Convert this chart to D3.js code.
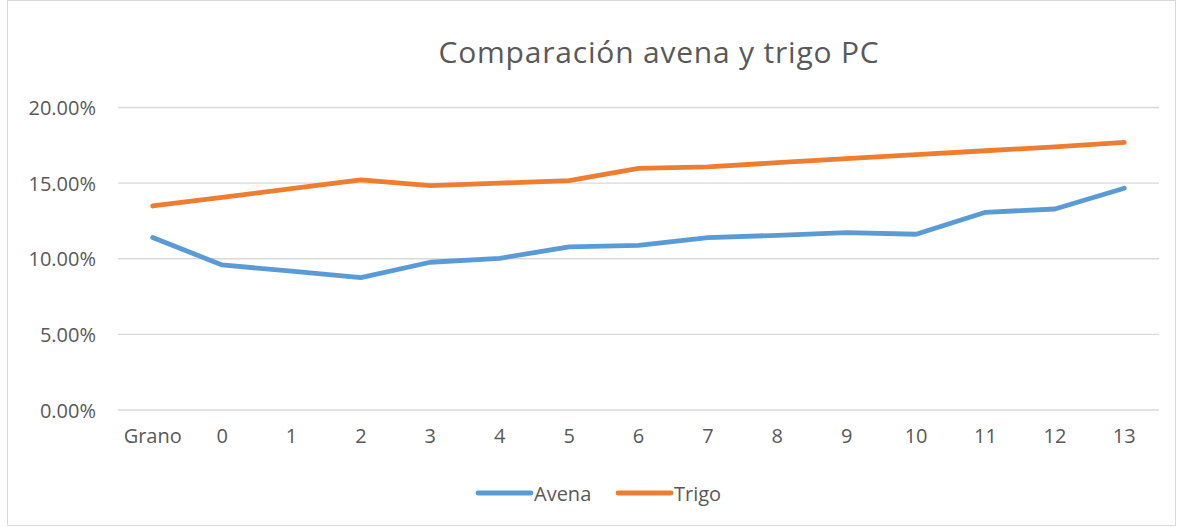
<!DOCTYPE html>
<html><head><meta charset="utf-8">
<script src="https://cdn.jsdelivr.net/npm/d3@7"></script>
<style>body{margin:0;background:#fff;} text{font-family:"Open Sans","Noto Sans",sans-serif;}</style>
</head><body><svg id="c" width="1177" height="527"></svg>
<script>
const categories = ["Grano","0","1","2","3","4","5","6","7","8","9","10","11","12","13"];
const avena = [0.1140,0.0959,0.0918,0.0875,0.0977,0.1003,0.1078,0.1089,0.1140,0.1155,0.1173,0.1162,0.1307,0.1329,0.1466];
const trigo = [0.1349,0.1406,0.1464,0.1521,0.1484,0.1500,0.1517,0.1598,0.1607,0.1635,0.1662,0.1688,0.1714,0.1740,0.1770];
const yTicks = [0,0.05,0.10,0.15,0.20];
const seriesNames = ["Avena","Trigo"];
const colors = ["#5B9BD5","#ED7D31"];

const svg = d3.select("#c");
svg.append("rect").attr("x",7.5).attr("y",0.5).attr("width",1168).attr("height",525)
  .attr("fill","#fff").attr("stroke","#D9D9D9");

const x = d3.scaleBand().domain(categories).range([118,1159]);
const y = d3.scaleLinear().domain([0,0.20]).range([410,107.5]);

svg.append("g").selectAll("line").data(yTicks).join("line")
  .attr("x1",118).attr("x2",1159).attr("y1",d=>y(d)).attr("y2",d=>y(d))
  .attr("stroke","#D9D9D9").attr("stroke-width",1.3);

const yAxis = d3.axisLeft(y).tickValues(yTicks).tickFormat(d=>(d*100).toFixed(2)+"%").tickSize(0).tickPadding(0);
const gy = svg.append("g").attr("transform","translate(96,0)").call(yAxis);
gy.select(".domain").remove();
gy.selectAll("text").attr("fill","#595959").style("font-size","20px").style("font-family","'Open Sans'").attr("dy","0.35em");

const xAxis = d3.axisBottom(x).tickSize(0).tickPadding(0);
const gx = svg.append("g").attr("transform","translate(0,429)").call(xAxis);
gx.select(".domain").remove();
gx.selectAll("text").attr("fill","#595959").style("font-size","20px").style("font-family","'Open Sans'").attr("dy","0.71em");

const line = d3.line().x((d,i)=>x(categories[i])+x.bandwidth()/2).y(d=>y(d));
[avena,trigo].forEach((s,k)=>{
  svg.append("path").datum(s).attr("d",line).attr("fill","none")
    .attr("stroke",colors[k]).attr("stroke-width",4.8)
    .attr("stroke-linejoin","round").attr("stroke-linecap","round");
});

svg.append("text").attr("x",659).attr("y",63).attr("text-anchor","middle")
  .attr("fill","#595959").style("font-size","30px").style("letter-spacing","0.8px")
  .text("Comparación avena y trigo PC");

const legX = [478,618];
seriesNames.forEach((n,k)=>{
  svg.append("line").attr("x1",legX[k]).attr("x2",legX[k]+53).attr("y1",493).attr("y2",493)
    .attr("stroke",colors[k]).attr("stroke-width",4.8).attr("stroke-linecap","round");
  svg.append("text").attr("x",legX[k]+56).attr("y",494).attr("dy","0.35em")
    .attr("fill","#595959").style("font-size","20px").text(n);
});
</script></body></html>
